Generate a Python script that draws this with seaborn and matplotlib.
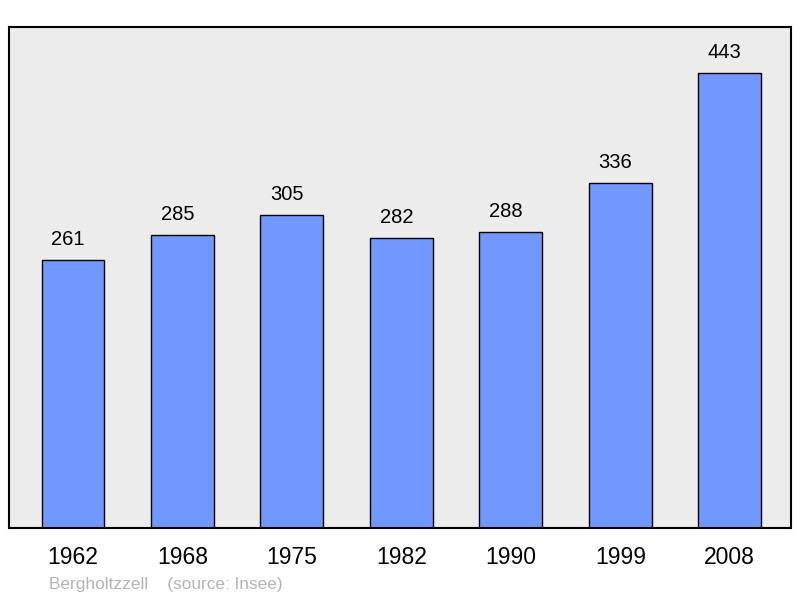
import matplotlib
matplotlib.use("Agg")
import matplotlib.pyplot as plt
import seaborn as sns
import pandas as pd

years = ["1962", "1968", "1975", "1982", "1990", "1999", "2008"]
population = [261, 285, 305, 282, 288, 336, 443]
source_text = "Bergholtzzell    (source: Insee)"

sns.set_style("white")
plt.rcParams['font.family'] = ['Liberation Sans', 'DejaVu Sans']

df = pd.DataFrame({"year": years, "pop": population})

fig = plt.figure(figsize=(8.0, 5.98), dpi=100)
ax = fig.add_axes([9/800, (598-528)/598, (791-9)/800, (528-27)/598])
ax.set_facecolor("#ececec")

sns.barplot(data=df, x="year", y="pop", color="#7098ff", saturation=1,
            edgecolor="black", linewidth=1.0, width=0.575, ax=ax)

for i, v in enumerate(population):
    ax.annotate(str(v), (i, v), xytext=(-3.6, 15), textcoords="offset points",
                ha="center", va="center", fontsize=14.5, color="black")

ax.set_xlim(-0.585, 6.56)
ax.set_ylim(0, 488)
ax.set_xlabel("")
ax.set_ylabel("")
ax.set_yticks([])
ax.tick_params(axis="x", length=0, pad=13, labelsize=16.5, labelcolor="black")
for s in ax.spines.values():
    s.set_visible(True)
    s.set_color("black")
    s.set_linewidth(1.5)

fig.text(49/800, 1 - 585/598, source_text, fontsize=12.4, color="#b4b4b4",
         ha="left", va="center")

fig.savefig("out.png", dpi=100)
